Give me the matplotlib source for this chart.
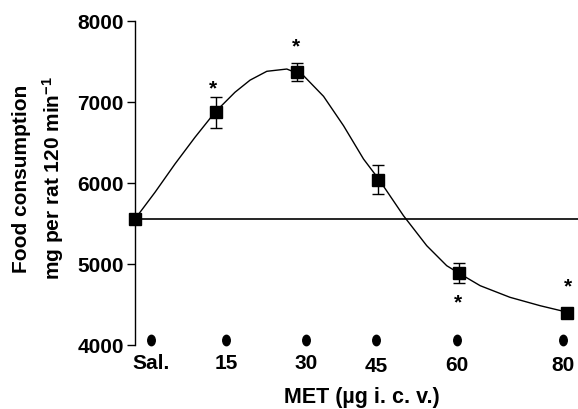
import matplotlib
matplotlib.use('Agg')
import matplotlib.pyplot as plt
from matplotlib.markers import MarkerStyle
from matplotlib.transforms import Affine2D

plt.rcParams['font.family'] = ['Liberation Sans', 'DejaVu Sans']
plt.rcParams['font.weight'] = 'bold'
plt.rcParams['mathtext.fontset'] = 'custom'
plt.rcParams['mathtext.rm'] = 'Liberation Sans:bold'
plt.rcParams['mathtext.it'] = 'Liberation Sans:bold'
plt.rcParams['mathtext.bf'] = 'Liberation Sans:bold'

# ---- data ----
dose = [0, 15, 30, 45, 60, 80]
food = [5556, 6873, 7374, 6041, 4889, 4395]
sem = [0, 190, 110, 180, 120, 60]
saline_level = 5556

# fitted curve, traced point by point
curve_x = [0, 3.7, 7.4, 11.1, 14.8, 18.5, 21.3, 24.4, 28.1, 31.2, 34.9, 38.6,
           42.3, 45.1, 49.7, 54.0, 57.7, 59.9, 63.9, 69.4, 75.0, 80.0]
curve_y = [5556, 5885, 6235, 6564, 6873, 7120, 7270, 7379, 7407, 7325, 7070,
           6707, 6296, 6049, 5596, 5226, 4979, 4889, 4732, 4589, 4485, 4405]

# significance stars
star_x = [14.5, 29.8, 59.7, 80.2]
star_y = [7169, 7695, 4527, 4725]

# dose labels and black dots under them
tick_labels = ['Sal.', '15', '30', '45', '60', '80']
tick_pos = [3.0, 16.9, 31.7, 44.6, 59.6, 79.3]
tick_lab_y = [3790, 3790, 3790, 3753, 3765, 3765]
dot_y = 4065

fig = plt.figure(figsize=(5.78, 4.10), dpi=100)
ax = fig.add_axes([135 / 578, 64 / 410, 443 / 578, 324 / 410])
ax.set_xlim(0, 82)
ax.set_ylim(4000, 8000)

ax.axhline(saline_level, color='black', lw=1.2, zorder=1)
ax.plot(curve_x, curve_y, color='black', lw=1.0, zorder=2)
ax.errorbar(dose, food, yerr=sem, fmt='s', color='black', ms=8, capsize=4,
            elinewidth=1.0, capthick=1.0, clip_on=False, zorder=3)

for sx, sy in zip(star_x, star_y):
    ax.text(sx, sy, '*', ha='center', va='center', fontsize=15)

dot = MarkerStyle('o', transform=Affine2D().scale(0.72, 1.0))
ax.plot(tick_pos, [dot_y] * len(tick_pos), ls='none', marker=dot,
        color='black', ms=7.5, clip_on=False)
for tx, ty, lab in zip(tick_pos, tick_lab_y, tick_labels):
    ax.text(tx, ty, lab, ha='center', va='center', fontsize=15, clip_on=False)

ax.spines['top'].set_visible(False)
ax.spines['right'].set_visible(False)
ax.spines['bottom'].set_visible(False)
ax.spines['left'].set_linewidth(1.0)
ax.set_xticks([])
ax.set_yticks([4000, 5000, 6000, 7000, 8000])
ax.tick_params(axis='y', length=6, width=1.0, labelsize=15, pad=2)

fig.text(362 / 578, 1 - 398 / 410, 'MET (\u00b5g i. c. v.)', ha='center',
         va='center', fontsize=15.5)
fig.text(22 / 578, 1 - 179 / 410, 'Food consumption', rotation=90,
         ha='center', va='center', fontsize=15)
fig.text(53 / 578, 1 - 178 / 410, r'mg per rat 120 min$^{-1}$', rotation=90,
         ha='center', va='center', fontsize=15)

fig.savefig('out.png', dpi=100)
